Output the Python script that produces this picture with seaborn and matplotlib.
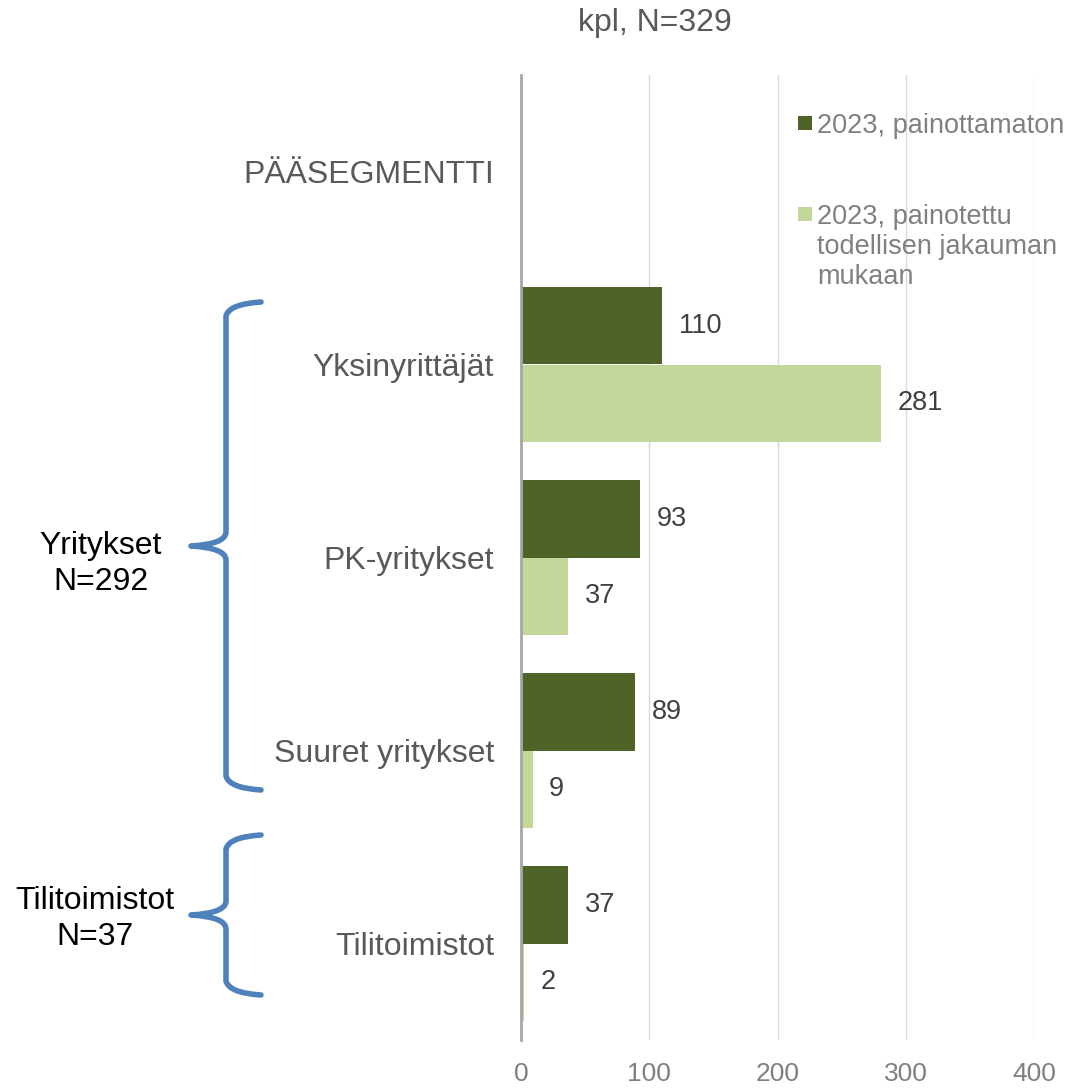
import numpy as np
import pandas as pd
import matplotlib
matplotlib.use("Agg")
import matplotlib.pyplot as plt
from matplotlib.path import Path
from matplotlib.patches import PathPatch, Rectangle
from matplotlib.transforms import Affine2D
import seaborn as sns

categories = ["PÄÄSEGMENTTI", "Yksinyrittäjät", "PK-yritykset", "Suuret yritykset", "Tilitoimistot"]
bar_categories = ["Yksinyrittäjät", "PK-yritykset", "Suuret yritykset", "Tilitoimistot"]
unweighted = [110, 93, 89, 37]
weighted = [281, 37, 9, 2]
series_names = ["2023, painottamaton", "2023, painotettu\ntodellisen jakauman\nmukaan"]
x_ticks = [0, 100, 200, 300, 400]
title = "kpl, N=329"
group_labels = ["Yritykset\nN=292", "Tilitoimistot\nN=37"]

colors = ["#4F6228", "#C4D79B"]

df = pd.DataFrame({
    "kategoria": bar_categories * 2,
    "arvo": unweighted + weighted,
    "sarja": [series_names[0]] * len(bar_categories) + [series_names[1]] * len(bar_categories),
})

sns.set_theme(style="white")
plt.rcParams["font.family"] = ["Liberation Sans", "DejaVu Sans"]

W, H = 1083, 1088
fig = plt.figure(figsize=(W / 100, H / 100), dpi=100)
ax = fig.add_axes([521 / W, 1 - 1040 / H, (1034 - 521) / W, (1040 - 75) / H])

sns.barplot(data=df, y="kategoria", x="arvo", hue="sarja", order=categories,
            hue_order=series_names, palette=colors, width=0.8, orient="h",
            saturation=1, legend=False, ax=ax, edgecolor="none")

for c in ax.containers:
    ax.bar_label(c, padding=12, fontsize=19.5, color="#404040")

ax.set_xlim(0, 400)
ax.set_ylim(len(categories) - 0.5, -0.5)
ax.set_xticks(x_ticks)
ax.set_xticklabels([str(t) for t in x_ticks])
ax.tick_params(axis="x", length=0, pad=16, labelsize=19, labelcolor="#808080")
ax.tick_params(axis="y", length=0, pad=19.5, labelsize=23, labelcolor="#595959")
ax.set_xlabel("")
ax.set_ylabel("")
ax.xaxis.grid(True, color="#D9D9D9", linewidth=1)
ax.set_axisbelow(True)
for s in ["top", "right", "bottom"]:
    ax.spines[s].set_visible(False)
ax.spines["left"].set_color("#A6A6A6")
ax.spines["left"].set_linewidth(2)
ax.spines["left"].set_zorder(5)

# pixel transform (origin top-left)
pix = Affine2D().scale(1 / W, -1 / H).translate(0, 1) + fig.transFigure

# title
fig.text(655, 23, title, transform=pix, ha="center", va="center", fontsize=23, color="#595959")

# manual legend
leg_y = [123, 214]
for i, (name, col) in enumerate(zip(series_names, colors)):
    fig.patches.append(Rectangle((798, leg_y[i] + 7), 14, -14, transform=pix,
                                 facecolor=col, edgecolor="none"))
    fig.text(817, leg_y[i] - 10, name, transform=pix, ha="left", va="top",
             fontsize=19.5, color="#808080", linespacing=1.2)

# braces
def brace(top, mid, bot, x_line=226, x_tip=261, x_mid=191, r=14):
    verts = [
        (x_tip, top), (x_line + 3, top + 2), (x_line, top + r),
        (x_line, mid - r), (x_line, mid - 2), (x_mid, mid),
        (x_line, mid + 2), (x_line, mid + r),
        (x_line, bot - r), (x_line + 3, bot - 2), (x_tip, bot),
    ]
    codes = [Path.MOVETO, Path.CURVE3, Path.CURVE3,
             Path.LINETO, Path.CURVE3, Path.CURVE3,
             Path.CURVE3, Path.CURVE3,
             Path.LINETO, Path.CURVE3, Path.CURVE3]
    p = PathPatch(Path(verts, codes), transform=pix, facecolor="none",
                  edgecolor="#4F81BD", linewidth=4, capstyle="round", joinstyle="round")
    fig.patches.append(p)

brace(302, 546, 790)
brace(835, 915, 995)

fig.text(101, 564, group_labels[0], transform=pix, ha="center", va="center",
         fontsize=23, color="black", linespacing=1.27)
fig.text(95, 919, group_labels[1], transform=pix, ha="center", va="center",
         fontsize=23, color="black", linespacing=1.27)

fig.savefig("out.png", dpi=100)
